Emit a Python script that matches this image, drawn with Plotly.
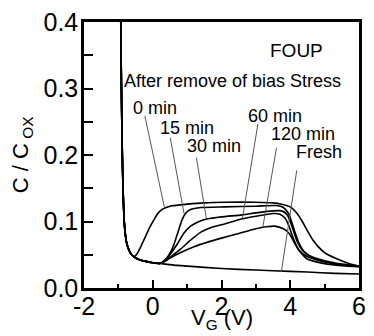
import plotly.graph_objects as go

# ---- data ----
acc_x = [-0.93, -0.915, -0.90, -0.885, -0.87, -0.85, -0.83, -0.80, -0.76, -0.70, -0.63, -0.55]
acc_y = [0.40, 0.32, 0.25, 0.20, 0.16, 0.125, 0.100, 0.082, 0.068, 0.058, 0.051, 0.047]

fresh_x = acc_x + [-0.40, -0.20, 0.0, 0.2, 0.7, 1.5, 2.5, 3.5, 4.5, 5.3, 6.0]
fresh_y = acc_y + [0.043, 0.040, 0.038, 0.037, 0.034, 0.031, 0.028, 0.026, 0.024, 0.022, 0.021]

min0_x = acc_x + [-0.45, -0.35, -0.25, -0.1, 0.05, 0.16, 0.3, 0.5, 0.8, 1.5, 2.1, 3.0, 3.5, 3.75, 4.0, 4.2, 4.35, 4.5, 4.65, 4.8, 5.0, 5.3, 5.7, 6.0]
min0_y = acc_y + [0.052, 0.062, 0.073, 0.090, 0.104, 0.113, 0.119, 0.123, 0.125, 0.128, 0.129, 0.129, 0.128, 0.126, 0.122, 0.112, 0.100, 0.086, 0.073, 0.063, 0.053, 0.045, 0.037, 0.033]

base_x = [-0.40, -0.20, 0.0, 0.2]
base_y = [0.043, 0.040, 0.038, 0.037]

min15_x = acc_x + base_x + [0.35, 0.5, 0.62, 0.74, 0.85, 0.95, 1.1, 1.4, 2.1, 3.0, 3.6, 3.8, 3.95, 4.05, 4.15, 4.25, 4.4, 4.6, 5.0, 5.5, 6.0]
min15_y = acc_y + base_y + [0.042, 0.052, 0.066, 0.085, 0.102, 0.112, 0.118, 0.121, 0.122, 0.123, 0.124, 0.121, 0.112, 0.098, 0.082, 0.068, 0.055, 0.047, 0.040, 0.035, 0.032]

min30_x = acc_x + base_x + [0.35, 0.5, 0.7, 0.9, 1.1, 1.3, 1.6, 2.0, 2.6, 3.0, 3.5, 3.75, 3.9, 4.0, 4.1, 4.2, 4.35, 4.55, 5.0, 5.5, 6.0]
min30_y = acc_y + base_y + [0.041, 0.050, 0.065, 0.082, 0.093, 0.099, 0.104, 0.107, 0.110, 0.113, 0.116, 0.116, 0.111, 0.100, 0.085, 0.070, 0.057, 0.049, 0.041, 0.036, 0.033]

min60_x = acc_x + base_x + [0.35, 0.5, 0.8, 1.1, 1.4, 1.7, 2.0, 2.6, 3.0, 3.5, 3.7, 3.85, 3.95, 4.05, 4.15, 4.25, 4.4, 4.6, 5.0, 5.5, 6.0]
min60_y = acc_y + base_y + [0.040, 0.046, 0.058, 0.072, 0.084, 0.091, 0.095, 0.104, 0.108, 0.112, 0.111, 0.105, 0.095, 0.080, 0.067, 0.057, 0.050, 0.045, 0.039, 0.035, 0.033]

min120_x = acc_x + base_x + [0.35, 0.5, 0.8, 1.2, 1.6, 2.0, 2.5, 3.0, 3.3, 3.55, 3.8, 3.97, 4.11, 4.25, 4.48, 4.96, 5.6, 6.0]
min120_y = acc_y + base_y + [0.040, 0.045, 0.053, 0.062, 0.069, 0.075, 0.082, 0.089, 0.092, 0.093, 0.089, 0.082, 0.069, 0.057, 0.044, 0.037, 0.033, 0.032]

curves = [
    ("Fresh", fresh_x, fresh_y),
    ("0 min", min0_x, min0_y),
    ("15 min", min15_x, min15_y),
    ("30 min", min30_x, min30_y),
    ("60 min", min60_x, min60_y),
    ("120 min", min120_x, min120_y),
]

# labels: text, text position, leader start, leader end
label_text = ["0 min", "15 min", "30 min", "60 min", "120 min", "Fresh"]
label_pos = [(0.06, 0.270), (0.99, 0.241), (1.78, 0.213), (3.57, 0.259), (4.36, 0.232), (4.83, 0.204)]
leader_from = [(-0.23, 0.259), (0.51, 0.226), (1.27, 0.196), (3.06, 0.247), (3.60, 0.211), (4.19, 0.177)]
leader_to = [(0.34, 0.121), (0.91, 0.112), (1.56, 0.104), (2.61, 0.105), (3.20, 0.091), (3.74, 0.024)]

x_ticks = [-2, 0, 2, 4, 6]
x_tick_text = ["-2", "0", "2", "4", "6"]
y_ticks = [0.0, 0.1, 0.2, 0.3, 0.4]
y_tick_text = ["0.0", "0.1", "0.2", "0.3", "0.4"]

FONT = "Liberation Sans, Arial, sans-serif"

fig = go.Figure()
for name, xs, ys in curves:
    fig.add_trace(go.Scatter(x=xs, y=ys, mode="lines", name=name,
                             line=dict(color="black", width=1.6, shape="spline", smoothing=0.6),
                             showlegend=False, hoverinfo="skip"))

for (x0, y0), (x1, y1) in zip(leader_from, leader_to):
    fig.add_shape(type="line", x0=x0, y0=y0, x1=x1, y1=y1, xref="x", yref="y",
                  line=dict(color="#555555", width=1))

for t, (tx, ty) in zip(label_text, label_pos):
    fig.add_annotation(x=tx, y=ty, text=t, showarrow=False, xanchor="center", yanchor="middle",
                       font=dict(size=18, color="black", family=FONT))

fig.add_annotation(x=4.19, y=0.357, text="FOUP", showarrow=False, xanchor="center", yanchor="middle",
                   font=dict(size=19, color="black", family=FONT))
fig.add_annotation(x=2.31, y=0.312, text="After remove of bias Stress", showarrow=False,
                   xanchor="center", yanchor="middle", font=dict(size=18, color="black", family=FONT))

# axis titles
fig.add_annotation(x=0.5, y=-0.118, xref="paper", yref="paper", text="V<sub>G</sub> (V)",
                   showarrow=False, xanchor="center", yanchor="middle",
                   font=dict(size=22, color="black", family=FONT))
fig.add_annotation(x=-0.225, y=0.5, xref="paper", yref="paper", text="C / C<sub> OX</sub>",
                   showarrow=False, textangle=-90, xanchor="center", yanchor="middle",
                   font=dict(size=22, color="black", family=FONT))

fig.update_layout(
    width=374, height=336,
    margin=dict(l=84, r=8, t=21, b=48),
    paper_bgcolor="white", plot_bgcolor="white",
    font=dict(family=FONT, color="black", size=25),
)
fig.update_xaxes(range=[-2, 6], tickvals=x_ticks, ticktext=x_tick_text, ticks="inside", ticklen=8, tickwidth=2,
                 tickcolor="black", showline=True, linewidth=2.5, linecolor="black", mirror=True,
                 showgrid=False, zeroline=False, tickfont=dict(size=25), ticklabelstandoff=-6,
                 minor=dict(dtick=1, ticks="inside", ticklen=4, tickwidth=2, tickcolor="black", showgrid=False))
fig.update_yaxes(range=[0, 0.4], tickvals=y_ticks, ticktext=y_tick_text, ticks="inside", ticklen=9,
                 tickwidth=2, tickcolor="black", showline=True, linewidth=2.5, linecolor="black",
                 mirror=True, showgrid=False, zeroline=False, tickfont=dict(size=25), ticklabelstandoff=-2,
                 minor=dict(dtick=0.05, ticks="inside", ticklen=9, tickwidth=2, tickcolor="black", showgrid=False))

fig.write_html("out.html")
